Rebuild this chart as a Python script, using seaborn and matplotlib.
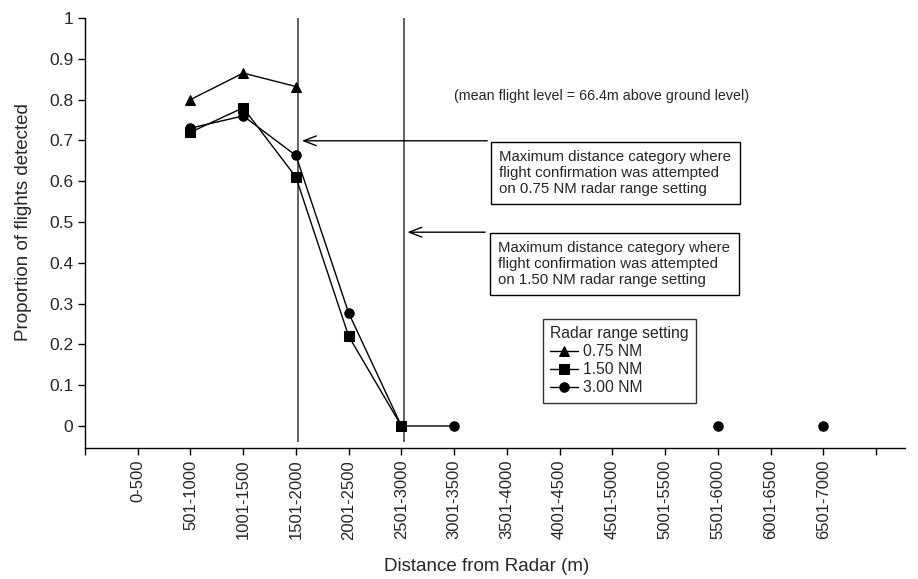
import numpy as np
import pandas as pd
import matplotlib.pyplot as plt
import seaborn as sns

# ================================================================
categories = ["0-500", "501-1000", "1001-1500", "1501-2000", "2001-2500",
              "2501-3000", "3001-3500", "3501-4000", "4001-4500", "4501-5000",
              "5001-5500", "5501-6000", "6001-6500", "6501-7000"]
nan = np.nan
nm_075 = [nan, 0.80, 0.865, 0.832, nan, nan, nan, nan, nan, nan, nan, nan, nan, nan]
nm_150 = [nan, 0.72, 0.78, 0.61, 0.22, 0.0, nan, nan, nan, nan, nan, nan, nan, nan]
nm_300 = [nan, 0.73, 0.76, 0.663, 0.277, 0.0, 0.0, nan, nan, nan, nan, 0.0, nan, 0.0]
settings = ["0.75 NM", "1.50 NM", "3.00 NM"]
series = [nm_075, nm_150, nm_300]
markers = {"0.75 NM": "^", "1.50 NM": "s", "3.00 NM": "o"}
# ================================================================

# long table; gaps in a series split it into separate line segments
rows = []
for name, vals in zip(settings, series):
    seg = 0
    for i, v in enumerate(vals):
        if np.isnan(v):
            seg += 1
            continue
        rows.append(dict(setting=name, pos=i + 1, value=v, seg=seg))
df = pd.DataFrame(rows)

sns.set_style("ticks")
plt.rcParams["font.family"] = ["Liberation Sans", "DejaVu Sans"]

fig = plt.figure(figsize=(9.18, 5.79), dpi=100)
ax = fig.add_axes([85 / 918, 131 / 579, 820 / 918, 430 / 579])

sns.lineplot(ax=ax, data=df, x="pos", y="value", hue="setting", style="setting",
             units="seg", estimator=None, palette=["black"] * 3, markers=markers,
             dashes=False, markersize=6.8, linewidth=1, markeredgecolor="black")

# reference lines for the max distance categories
ax.vlines([4.04, 6.04], -0.04, 1.0, color="#555555", lw=1.3, zorder=1)

# axes
ax.set_xlim(0, 15.55)
ax.set_ylim(-0.054, 1.0)
ax.set_xticks(range(0, 16))
ax.set_xticklabels([""] + categories + [""], rotation=90, fontsize=12)
ax.set_yticks(np.arange(0, 1.01, 0.1))
ax.set_yticklabels(["0"] + [f"{v:.1f}" for v in np.arange(0.1, 0.95, 0.1)] + ["1"], fontsize=12.5)
ax.tick_params(axis="both", length=5, width=1, color="black", pad=3.5)
ax.set_xlabel("Distance from Radar (m)", fontsize=13.5)
ax.set_ylabel("Proportion of flights detected", fontsize=13.5)
ax.xaxis.set_label_coords(0.49, -0.255)
ax.yaxis.set_label_coords(-0.065, 0.5256)
for s in ["left", "bottom"]:
    ax.spines[s].set_color("black")
    ax.spines[s].set_linewidth(1)
sns.despine(ax=ax)

# annotations
ax.text(7.0, 0.81, "(mean flight level = 66.4m above ground level)",
        fontsize=10.3, ha="left", va="center")
box = dict(boxstyle="square,pad=0.55", fc="white", ec="black", lw=1)
txt1 = "Maximum distance category where\nflight confirmation was attempted\non 0.75 NM radar range setting"
txt2 = "Maximum distance category where\nflight confirmation was attempted\non 1.50 NM radar range setting"
ax.text(7.86, 0.677, txt1, fontsize=10.8, ha="left", va="top", bbox=box, linespacing=1.18)
ax.text(7.84, 0.453, txt2, fontsize=10.8, ha="left", va="top", bbox=box, linespacing=1.18)
arrow = dict(arrowstyle="->,head_length=0.9,head_width=0.35", color="black", lw=1)
ax.annotate("", xy=(4.06, 0.699), xytext=(7.68, 0.699), arrowprops=arrow)
ax.annotate("", xy=(6.06, 0.475), xytext=(7.64, 0.475), arrowprops=arrow)

# legend
handles, labels = ax.get_legend_handles_labels()
leg = ax.legend(handles, labels, title="Radar range setting", loc="upper left",
                bbox_to_anchor=(0.5585, 0.30), fontsize=11.3, title_fontsize=11.3,
                frameon=True, fancybox=False, edgecolor="black", handlelength=1.8,
                handletextpad=0.3, labelspacing=0.2, borderpad=0.45, borderaxespad=0,
                alignment="left")
leg.get_frame().set_linewidth(1)

plt.savefig("out.png", dpi=100)
